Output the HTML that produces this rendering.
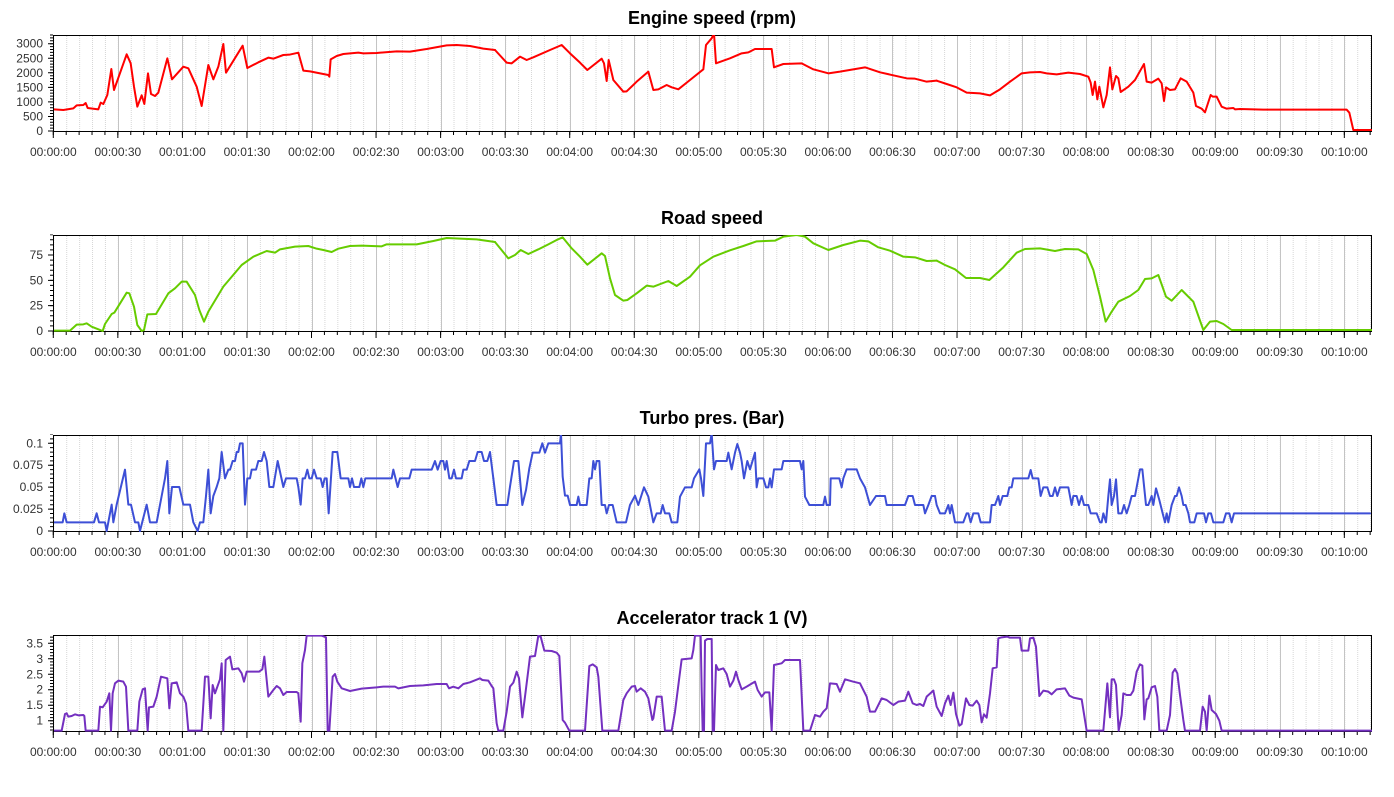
<!DOCTYPE html>
<html>
<head>
<meta charset="utf-8">
<style>
html,body{margin:0;padding:0;background:#fff;}
svg{display:block;}
.t{font-family:"Liberation Sans",sans-serif;font-weight:bold;font-size:18px;fill:#000;}
.xl{font-family:"Liberation Sans",sans-serif;font-size:12px;fill:#333;text-anchor:middle;}
.yl{font-family:"Liberation Sans",sans-serif;font-size:12px;fill:#333;text-anchor:end;}
.s{fill:none;stroke-width:2;stroke-linejoin:round;stroke-linecap:round;}
</style>
</head>
<body>
<svg width="1394" height="797" viewBox="0 0 1394 797" xmlns="http://www.w3.org/2000/svg">
<defs>
  <pattern id="mg" x="53.3" y="0" width="12.9103" height="2" patternUnits="userSpaceOnUse">
    <rect x="0" y="0" width="1" height="1" fill="#d6d6d6"/>
  </pattern>
  <clipPath id="c0"><rect x="54" y="35" width="1318" height="97"/></clipPath>
  <clipPath id="c1"><rect x="54" y="235" width="1318" height="97"/></clipPath>
  <clipPath id="c2"><rect x="54" y="435" width="1318" height="97"/></clipPath>
  <clipPath id="c3"><rect x="54" y="635" width="1318" height="97"/></clipPath>
  <g id="frame">
    <rect x="54" y="36" width="1317" height="95" fill="url(#mg)"/>
    <path d="M118.5 36V131M182.5 36V131M247.5 36V131M312.5 36V131M376.5 36V131M441.5 36V131M505.5 36V131M570.5 36V131M634.5 36V131M699.5 36V131M763.5 36V131M828.5 36V131M892.5 36V131M957.5 36V131M1022.5 36V131M1086.5 36V131M1151.5 36V131M1215.5 36V131M1280.5 36V131M1344.5 36V131" stroke="#c4c4c4" stroke-width="1" fill="none"/>
    <line x1="52.8" y1="133" x2="1373" y2="133" stroke="#000" stroke-width="4" stroke-dasharray="1 11.9103"/>
    <line x1="52.8" y1="134.5" x2="1373" y2="134.5" stroke="#000" stroke-width="7" stroke-dasharray="1 63.5515"/>
    <rect x="53.5" y="35.5" width="1318" height="96" fill="none" stroke="#000" stroke-width="1"/>
  </g>
</defs>

<!-- frames -->
<use href="#frame" x="0" y="0"/>
<use href="#frame" x="0" y="200"/>
<use href="#frame" x="0" y="400"/>
<use href="#frame" x="0" y="600"/>

<!-- titles -->
<text class="t" x="712" y="24" text-anchor="middle">Engine speed (rpm)</text>
<text class="t" x="712" y="224" text-anchor="middle">Road speed</text>
<text class="t" x="712" y="424" text-anchor="middle">Turbo pres. (Bar)</text>
<text class="t" x="712" y="624" text-anchor="middle">Accelerator track 1 (V)</text>

<!-- y ticks -->
<g stroke="#000">
  <line x1="51.5" y1="131.5" x2="51.5" y2="34.5" stroke-width="3" stroke-dasharray="1 1.91"/>
  <line x1="50.5" y1="131.5" x2="50.5" y2="34.5" stroke-width="5" stroke-dasharray="1 13.55"/>
  <line x1="51.5" y1="331.5" x2="51.5" y2="234.5" stroke-width="3" stroke-dasharray="1 4.0667"/>
  <line x1="50.5" y1="331.5" x2="50.5" y2="234.5" stroke-width="5" stroke-dasharray="1 24.333"/>
  <line x1="51.5" y1="531.5" x2="51.5" y2="434.5" stroke-width="3" stroke-dasharray="1 3.385"/>
  <line x1="50.5" y1="531.5" x2="50.5" y2="434.5" stroke-width="5" stroke-dasharray="1 20.925"/>
  <line x1="51.5" y1="730.5" x2="51.5" y2="634.5" stroke-width="3" stroke-dasharray="1 2.096"/>
  <line x1="50.5" y1="721.2" x2="50.5" y2="634.5" stroke-width="5" stroke-dasharray="1 14.48"/>
</g>

<!-- y labels -->
<text class="yl" x="43" y="135">0</text>
<text class="yl" x="43" y="120.5">500</text>
<text class="yl" x="43" y="105.9">1000</text>
<text class="yl" x="43" y="91.4">1500</text>
<text class="yl" x="43" y="76.8">2000</text>
<text class="yl" x="43" y="62.3">2500</text>
<text class="yl" x="43" y="47.7">3000</text>

<text class="yl" x="43" y="335">0</text>
<text class="yl" x="43" y="309.7">25</text>
<text class="yl" x="43" y="284.3">50</text>
<text class="yl" x="43" y="259">75</text>

<text class="yl" x="43" y="535">0</text>
<text class="yl" x="43" y="513.1">0.025</text>
<text class="yl" x="43" y="491.2">0.05</text>
<text class="yl" x="43" y="469.2">0.075</text>
<text class="yl" x="43" y="447.3">0.1</text>

<text class="yl" x="43" y="724.7">1</text>
<text class="yl" x="43" y="709.2">1.5</text>
<text class="yl" x="43" y="693.7">2</text>
<text class="yl" x="43" y="678.3">2.5</text>
<text class="yl" x="43" y="662.8">3</text>
<text class="yl" x="43" y="647.3">3.5</text>

<!-- x labels -->
<g transform="translate(0,0)">
<text class="xl" x="53.3" y="156">00:00:00</text><text class="xl" x="117.85" y="156">00:00:30</text><text class="xl" x="182.4" y="156">00:01:00</text><text class="xl" x="246.95" y="156">00:01:30</text><text class="xl" x="311.5" y="156">00:02:00</text><text class="xl" x="376.05" y="156">00:02:30</text><text class="xl" x="440.6" y="156">00:03:00</text><text class="xl" x="505.15" y="156">00:03:30</text><text class="xl" x="569.7" y="156">00:04:00</text><text class="xl" x="634.25" y="156">00:04:30</text><text class="xl" x="698.8" y="156">00:05:00</text><text class="xl" x="763.35" y="156">00:05:30</text><text class="xl" x="827.9" y="156">00:06:00</text><text class="xl" x="892.45" y="156">00:06:30</text><text class="xl" x="957" y="156">00:07:00</text><text class="xl" x="1021.55" y="156">00:07:30</text><text class="xl" x="1086.1" y="156">00:08:00</text><text class="xl" x="1150.65" y="156">00:08:30</text><text class="xl" x="1215.2" y="156">00:09:00</text><text class="xl" x="1279.75" y="156">00:09:30</text><text class="xl" x="1344.3" y="156">00:10:00</text>
</g>
<g transform="translate(0,200)">
<text class="xl" x="53.3" y="156">00:00:00</text><text class="xl" x="117.85" y="156">00:00:30</text><text class="xl" x="182.4" y="156">00:01:00</text><text class="xl" x="246.95" y="156">00:01:30</text><text class="xl" x="311.5" y="156">00:02:00</text><text class="xl" x="376.05" y="156">00:02:30</text><text class="xl" x="440.6" y="156">00:03:00</text><text class="xl" x="505.15" y="156">00:03:30</text><text class="xl" x="569.7" y="156">00:04:00</text><text class="xl" x="634.25" y="156">00:04:30</text><text class="xl" x="698.8" y="156">00:05:00</text><text class="xl" x="763.35" y="156">00:05:30</text><text class="xl" x="827.9" y="156">00:06:00</text><text class="xl" x="892.45" y="156">00:06:30</text><text class="xl" x="957" y="156">00:07:00</text><text class="xl" x="1021.55" y="156">00:07:30</text><text class="xl" x="1086.1" y="156">00:08:00</text><text class="xl" x="1150.65" y="156">00:08:30</text><text class="xl" x="1215.2" y="156">00:09:00</text><text class="xl" x="1279.75" y="156">00:09:30</text><text class="xl" x="1344.3" y="156">00:10:00</text>
</g>
<g transform="translate(0,400)">
<text class="xl" x="53.3" y="156">00:00:00</text><text class="xl" x="117.85" y="156">00:00:30</text><text class="xl" x="182.4" y="156">00:01:00</text><text class="xl" x="246.95" y="156">00:01:30</text><text class="xl" x="311.5" y="156">00:02:00</text><text class="xl" x="376.05" y="156">00:02:30</text><text class="xl" x="440.6" y="156">00:03:00</text><text class="xl" x="505.15" y="156">00:03:30</text><text class="xl" x="569.7" y="156">00:04:00</text><text class="xl" x="634.25" y="156">00:04:30</text><text class="xl" x="698.8" y="156">00:05:00</text><text class="xl" x="763.35" y="156">00:05:30</text><text class="xl" x="827.9" y="156">00:06:00</text><text class="xl" x="892.45" y="156">00:06:30</text><text class="xl" x="957" y="156">00:07:00</text><text class="xl" x="1021.55" y="156">00:07:30</text><text class="xl" x="1086.1" y="156">00:08:00</text><text class="xl" x="1150.65" y="156">00:08:30</text><text class="xl" x="1215.2" y="156">00:09:00</text><text class="xl" x="1279.75" y="156">00:09:30</text><text class="xl" x="1344.3" y="156">00:10:00</text>
</g>
<g transform="translate(0,600)">
<text class="xl" x="53.3" y="156">00:00:00</text><text class="xl" x="117.85" y="156">00:00:30</text><text class="xl" x="182.4" y="156">00:01:00</text><text class="xl" x="246.95" y="156">00:01:30</text><text class="xl" x="311.5" y="156">00:02:00</text><text class="xl" x="376.05" y="156">00:02:30</text><text class="xl" x="440.6" y="156">00:03:00</text><text class="xl" x="505.15" y="156">00:03:30</text><text class="xl" x="569.7" y="156">00:04:00</text><text class="xl" x="634.25" y="156">00:04:30</text><text class="xl" x="698.8" y="156">00:05:00</text><text class="xl" x="763.35" y="156">00:05:30</text><text class="xl" x="827.9" y="156">00:06:00</text><text class="xl" x="892.45" y="156">00:06:30</text><text class="xl" x="957" y="156">00:07:00</text><text class="xl" x="1021.55" y="156">00:07:30</text><text class="xl" x="1086.1" y="156">00:08:00</text><text class="xl" x="1150.65" y="156">00:08:30</text><text class="xl" x="1215.2" y="156">00:09:00</text><text class="xl" x="1279.75" y="156">00:09:30</text><text class="xl" x="1344.3" y="156">00:10:00</text>
</g>

<!-- Engine speed -->
<g clip-path="url(#c0)">
 <g transform="translate(50,30) scale(0.333333)">
  <polyline class="s" stroke="#ff0000" vector-effect="non-scaling-stroke" points="10,238 40,240 70,235 80,226 100,225 107,219 113,234 145,238 152,218 160,222 172,195 184,117 192,180 230,73 242,100 252,170 262,230 275,196 283,222 294,130 303,192 315,198 325,188 352,85 366,148 400,110 415,115 440,170 455,228 475,105 490,148 505,110 520,42 528,128 578,47 592,114 625,97 655,83 670,86 700,75 718,74 745,68 760,122 780,124 835,135 838,140 842,88 860,78 880,72 925,68 940,70 980,69 1040,64 1080,65 1130,57 1190,46 1220,45 1260,48 1300,56 1335,60"/>
 </g>
 <g transform="translate(490,30) scale(0.333333)">
  <polyline class="s" stroke="#ff0000" vector-effect="non-scaling-stroke" points="15,60 50,98 65,100 90,80 110,90 130,82 180,60 215,45 240,70 270,98 292,120 335,86 342,100 350,153 356,90 370,150 400,185 410,184 440,155 475,125 490,180 505,178 530,165 545,172 565,178 600,150 640,118 648,45 665,25 672,10 678,100 720,85 755,70 775,67 795,57 845,57 852,112 880,102 935,100 970,118 1015,130 1050,125 1125,112 1170,127 1250,145 1275,146 1310,155 1340,152"/>
 </g>
 <g transform="translate(930,30) scale(0.333333)">
  <polyline class="s" stroke="#ff0000" vector-effect="non-scaling-stroke" points="20,152 50,162 80,172 110,188 150,190 180,196 210,178 240,155 275,130 300,127 330,126 350,130 380,133 415,128 450,132 475,140 482,158 488,195 495,155 502,208 508,170 520,232 530,195 540,112 547,178 558,138 565,145 572,186 595,170 615,150 642,102 650,155 665,158 685,146 695,160 702,213 708,172 720,180 735,178 752,145 770,155 790,188 798,228 815,236 825,247 842,195 848,200 860,200 875,230 890,236 910,234 915,238 930,237 1000,239 1250,239 1258,248 1270,300 1325,300"/>
 </g>
</g>

<!-- Road speed -->
<g clip-path="url(#c1)">
 <g transform="translate(50,30) scale(0.333333)">
  <polyline class="s" stroke="#66cc00" vector-effect="non-scaling-stroke" points="10,902 60,902 80,884 100,883 110,880 125,890 145,898 158,903 165,882 185,852 193,848 230,788 238,790 252,830 262,885 275,903 282,900 292,853 318,852 355,790 375,775 395,755 410,755 435,795 448,840 462,875 475,845 520,770 575,705 610,680 650,663 675,668 690,658 735,650 775,648 800,656 820,660 845,666 865,656 900,648 935,647 995,649 1010,643 1100,643 1150,633 1190,624 1230,626 1280,628 1335,636"/>
 </g>
 <g transform="translate(490,30) scale(0.333333)">
  <polyline class="s" stroke="#66cc00" vector-effect="non-scaling-stroke" points="15,636 55,685 75,675 92,660 115,672 145,658 175,643 200,630 218,622 245,655 270,680 292,704 335,670 345,678 360,745 375,795 400,812 412,810 440,790 470,767 490,770 535,753 560,768 600,740 630,706 670,680 720,661 760,648 800,634 855,632 880,620 920,615 945,620 970,640 1015,660 1060,645 1110,632 1135,634 1165,652 1200,662 1240,680 1275,682 1310,693 1340,692"/>
 </g>
 <g transform="translate(930,30) scale(0.333333)">
  <polyline class="s" stroke="#66cc00" vector-effect="non-scaling-stroke" points="20,692 45,705 75,718 108,744 150,744 178,750 220,712 260,668 285,657 330,655 375,663 405,657 445,658 470,672 490,720 510,800 527,875 545,845 565,815 600,798 625,780 645,747 665,745 685,735 708,800 725,812 755,780 790,815 820,900 840,875 860,873 880,882 905,900 1325,900"/>
 </g>
</g>

<!-- Turbo pressure -->
<g clip-path="url(#c2)">
 <g transform="translate(50,430) scale(0.333333)">
  <polyline class="s" stroke="#3d4fd6" vector-effect="non-scaling-stroke" points="10,277 38,277 43,250 50,277 132,277 140,250 147,277 165,277 170,303 180,250 185,224 190,277 200,224 225,119 235,224 243,224 255,277 265,277 270,303 290,224 300,277 320,277 335,198 345,145 352,93 358,250 366,171 388,171 400,224 420,224 430,277 443,303 450,277 460,277 468,198 475,119 482,250 490,198 500,171 508,145 515,66 525,145 535,119 540,119 548,93 555,93 560,66 565,66 570,40 578,40 585,224 592,145 600,145 605,119 618,119 625,93 635,93 642,66 650,93 658,171 670,171 683,93 700,171 708,145 740,145 745,171 752,224 758,145 765,145 772,119 778,145 785,145 792,119 800,145 812,145 818,171 824,145 830,145 836,250 848,66 862,66 872,145 895,145 900,171 906,145 912,171 928,171 934,145 940,171 946,145 1025,145 1030,119 1043,171 1050,145 1078,145 1085,119 1145,119 1155,93 1163,119 1172,93 1180,93 1185,119 1190,93 1198,145 1205,145 1212,119 1218,145 1235,145 1240,119 1250,119 1258,93 1275,93 1283,66 1295,66 1302,93 1312,93 1320,66 1330,145"/>
 </g>
 <g transform="translate(490,430) scale(0.333333)">
  <polyline class="s" stroke="#3d4fd6" vector-effect="non-scaling-stroke" points="10,145 20,225 52,225 60,170 72,93 85,93 97,225 108,180 118,115 128,68 148,68 157,40 165,68 175,40 210,40 213,10 218,140 225,197 233,197 240,225 260,225 265,200 270,225 290,225 298,145 305,145 310,93 315,118 320,93 328,93 335,225 345,225 350,250 357,225 368,225 380,277 408,277 420,225 435,197 445,225 462,172 475,200 490,277 500,250 512,250 518,225 525,250 538,250 545,277 562,277 570,200 585,172 605,172 612,145 628,118 633,145 640,198 648,40 660,40 665,10 672,118 678,93 710,93 715,68 725,118 735,68 742,42 750,68 755,93 762,145 772,93 780,118 795,68 800,172 805,145 820,145 828,172 835,172 840,145 845,172 852,118 875,118 880,93 930,93 935,118 940,93 945,200 958,225 1000,225 1005,200 1010,225 1020,225 1022,145 1048,145 1055,172 1060,145 1070,118 1100,118 1110,145 1125,172 1140,225 1158,198 1185,198 1190,225 1245,225 1255,198 1268,198 1275,225 1300,225 1305,250 1315,225 1325,198 1335,198"/>
 </g>
 <g transform="translate(930,430) scale(0.333333)">
  <polyline class="s" stroke="#3d4fd6" vector-effect="non-scaling-stroke" points="15,198 20,225 30,250 45,250 55,225 60,250 65,225 70,250 75,277 100,277 110,250 115,250 122,277 130,250 145,250 152,277 180,277 185,225 195,225 205,198 210,225 218,198 232,198 238,172 245,172 250,145 295,145 302,120 308,145 325,145 332,198 340,172 352,172 360,198 368,198 375,172 382,198 390,172 415,172 425,225 430,198 440,198 447,225 455,198 462,225 475,225 482,250 500,250 510,277 515,277 520,250 528,277 535,198 540,148 545,225 552,198 558,148 565,250 575,250 582,225 590,250 598,225 605,198 615,198 625,145 630,118 637,118 648,225 655,225 665,198 670,225 678,175 688,210 698,250 705,277 710,250 715,277 725,225 735,198 740,198 747,172 755,198 760,225 767,225 775,250 780,277 793,277 800,250 822,250 828,277 835,250 843,250 850,277 880,277 888,250 898,250 905,277 912,250 1320,250"/>
 </g>
</g>

<!-- Accelerator -->
<g clip-path="url(#c3)">
 <g transform="translate(50,430) scale(0.333333)">
  <polyline class="s" stroke="#7430c0" vector-effect="non-scaling-stroke" points="10,902 35,902 45,852 50,850 55,860 65,858 75,853 85,856 100,855 103,858 107,902 145,902 150,830 158,832 170,815 178,790 183,902 188,790 195,760 205,752 220,755 228,770 235,902 262,902 268,815 278,778 285,775 290,855 293,902 297,832 310,830 320,800 333,740 352,745 358,835 365,760 380,757 390,790 400,800 408,820 415,902 455,902 465,740 475,740 482,865 488,765 495,790 510,748 515,700 520,902 527,690 540,680 547,718 565,715 575,730 582,755 590,725 627,725 637,718 643,680 655,800 670,780 680,768 690,775 700,795 710,786 740,786 745,790 752,875 757,700 765,660 770,617 815,617 828,622 833,902 838,902 848,740 855,732 862,755 875,775 900,783 935,776 980,772 1000,770 1035,770 1045,775 1080,768 1120,766 1160,762 1190,762 1197,775 1210,770 1225,775 1240,762 1260,757 1290,745 1297,750 1315,752 1325,768"/>
 </g>
 <g transform="translate(490,430) scale(0.333333)">
  <polyline class="s" stroke="#7430c0" vector-effect="non-scaling-stroke" points="5,768 10,775 20,880 25,902 40,902 50,845 60,770 70,758 80,725 87,745 97,862 105,800 120,680 135,678 145,617 152,620 163,662 185,663 200,668 208,678 218,870 225,878 238,902 285,902 298,708 308,703 320,712 325,740 337,902 385,902 400,810 410,790 425,770 435,768 440,785 452,775 465,785 475,805 487,870 490,865 500,800 515,800 525,902 545,902 555,845 568,742 575,688 605,685 610,660 615,617 632,617 635,780 638,902 642,902 645,632 652,627 665,627 668,902 672,902 678,705 685,720 700,715 710,732 720,770 730,752 738,725 745,750 755,778 770,770 795,755 803,780 815,800 825,787 838,787 845,902 852,705 875,700 885,690 930,690 940,902 960,902 975,855 990,860 1000,845 1010,835 1020,760 1040,762 1050,785 1065,748 1090,755 1110,760 1130,800 1140,845 1155,845 1175,805 1190,810 1210,825 1225,815 1245,812 1255,785 1268,820 1280,825 1290,822 1300,828 1310,800 1330,782"/>
 </g>
 <g transform="translate(930,430) scale(0.333333)">
  <polyline class="s" stroke="#7430c0" vector-effect="non-scaling-stroke" points="10,782 20,830 35,858 45,820 55,797 62,825 70,788 78,852 88,887 95,882 108,805 118,825 128,827 140,812 148,825 155,877 162,853 170,863 180,790 188,715 200,712 205,625 215,622 232,620 240,623 270,623 275,662 295,662 300,625 310,623 318,650 328,798 340,782 355,785 365,793 380,778 405,775 418,797 430,803 455,808 470,902 520,902 532,760 540,862 545,748 552,748 558,765 566,902 575,855 580,790 590,795 602,795 610,782 620,725 630,703 637,707 643,868 650,808 655,805 665,772 675,768 682,800 688,902 710,902 720,855 728,728 735,717 742,730 750,795 760,870 765,902 810,902 818,830 825,845 830,902 838,797 845,840 858,852 868,872 875,902 1325,902"/>
 </g>
</g>
</svg>
</body>
</html>
